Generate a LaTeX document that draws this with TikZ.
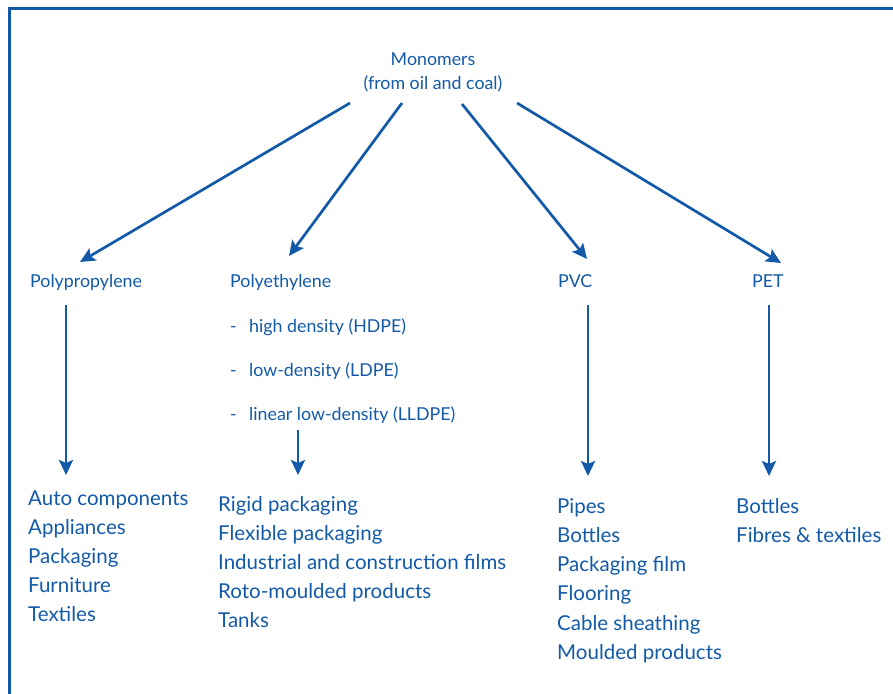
\documentclass[tikz,border=0pt]{standalone}
\usepackage{fontspec}
\setmainfont{Lato}
\usetikzlibrary{arrows.meta}
\definecolor{dblue}{RGB}{18,90,168}
\tikzset{
  sm/.style={font=\fontsize{17.8}{21}\selectfont, text=dblue, inner sep=0pt},
  lg/.style={font=\fontsize{20.5}{24}\selectfont, text=dblue, inner sep=0pt, anchor=base west},
  arr/.style={draw=dblue, line width=2.7pt, -{Stealth[length=15pt,width=14pt,inset=3pt]}},
}
\begin{document}
\begin{tikzpicture}[x=1pt,y=-1pt]
\useasboundingbox (0,0) rectangle (893,693);
\clip (0,0) rectangle (893,693);
\draw[dblue, line width=3pt] (9.5,700) -- (9.5,9) -- (900,9);
% top
\node[sm, anchor=base] (mono) at (433,66) {Monomers};
\node[sm, anchor=base] (mono2) at (433,89) {(from oil and coal)};
\coordinate (m1) at (350,103);
\coordinate (m2) at (402,103);
\coordinate (m3) at (462,104);
\coordinate (m4) at (517,103);
% polymer labels
\node[sm, anchor=base west] (pp) at (30,287) {Polypropylene};
\node[sm, anchor=base west] (pe) at (230,287) {Polyethylene};
\node[sm, anchor=base west] (pvc) at (558,287) {PVC};
\node[sm, anchor=base west] (pet) at (752,287) {PET};
\coordinate (t1) at (80,262);
\coordinate (t2) at (289,256);
\coordinate (t3) at (587,259);
\coordinate (t4) at (781,263);
\draw[arr] (m1) -- (t1);
\draw[arr] (m2) -- (t2);
\draw[arr] (m3) -- (t3);
\draw[arr] (m4) -- (t4);
% PE sub types
\node[sm, anchor=base west] (d1) at (230,332) {-};
\node[sm, anchor=base west] (h1) at (249,332) {high density (HDPE)};
\node[sm, anchor=base west] (d2) at (230,376) {-};
\node[sm, anchor=base west] (h2) at (249,376) {low-density (LDPE)};
\node[sm, anchor=base west] (d3) at (230,420) {-};
\node[sm, anchor=base west] (h3) at (249,420) {linear low-density (LLDPE)};
% vertical arrows
\coordinate (a1) at (66,305); \coordinate (b1) at (66,475);
\coordinate (a2) at (298,430); \coordinate (b2) at (298,475);
\coordinate (a3) at (588,305); \coordinate (b3) at (588,476);
\coordinate (a4) at (769,305); \coordinate (b4) at (769,476);
\draw[arr] (a1) -- (b1);
\draw[arr] (a2) -- (b2);
\draw[arr] (a3) -- (b3);
\draw[arr] (a4) -- (b4);
% lists
\node[lg] (l1a) at (28,505) {Auto components};
\node[lg] (l1b) at (28,534) {Appliances};
\node[lg] (l1c) at (28,563) {Packaging};
\node[lg] (l1d) at (28,592) {Furniture};
\node[lg] (l1e) at (28,621) {Textiles};
\node[lg] (l2a) at (218,511) {Rigid packaging};
\node[lg] (l2b) at (218,540) {Flexible packaging};
\node[lg] (l2c) at (218,569) {Industrial and construction films};
\node[lg] (l2d) at (218,598) {Roto-moulded products};
\node[lg] (l2e) at (218,627) {Tanks};
\node[lg] (l3a) at (557,513) {Pipes};
\node[lg] (l3b) at (557,542) {Bottles};
\node[lg] (l3c) at (557,571) {Packaging film};
\node[lg] (l3d) at (557,600) {Flooring};
\node[lg] (l3e) at (557,630) {Cable sheathing};
\node[lg] (l3f) at (557,659) {Moulded products};
\node[lg] (l4a) at (736,513) {Bottles};
\node[lg] (l4b) at (736,542) {Fibres \& textiles};
\end{tikzpicture}
\end{document}
